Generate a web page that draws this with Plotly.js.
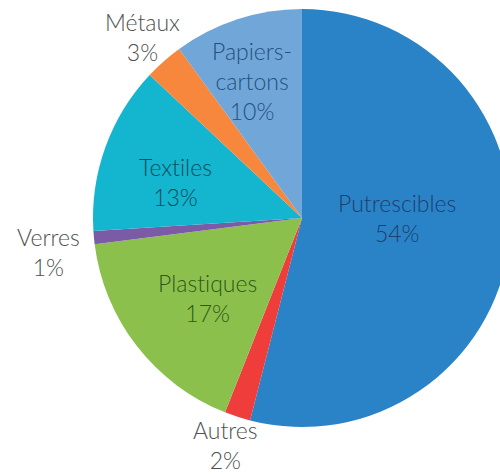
<!DOCTYPE html>
<html>
<head>
<meta charset="utf-8">
<script src="https://cdn.plot.ly/plotly-3.0.1.min.js"></script>
<style>
  html, body { margin: 0; padding: 0; overflow: hidden; background: #fff; }
  #chart { width: 522px; height: 475px; }
  text { font-variant-ligatures: none; font-feature-settings: "liga" 0, "clig" 0; }
</style>
</head>
<body>
<div id="chart"></div>
<script>
// Data (clockwise from 12 o'clock)
const categories = ["Putrescibles", "Autres", "Plastiques", "Verres", "Textiles", "Métaux", "Papiers-cartons"];
const displayLabels = ["Putrescibles", "Autres", "Plastiques", "Verres", "Textiles", "Métaux", "Papiers-<br>cartons"];
const percentages = [54, 2, 17, 1, 13, 3, 10];

// Styles
const sliceColors = ["#2a83c6", "#ee3d3a", "#8cc04d", "#7b5aa6", "#13b5cf", "#f7873d", "#70a7d8"];
const labelColors = ["#1d3f6e", "#505050", "#2c5a1a", "#505050", "#0d4d5c", "#505050", "#25507f"];
// label centre positions in pixels (layout only)
const labelPos = [[397, 218], [225, 445], [207, 298], [48, 252], [175, 182], [142, 37], [252, 81]];

const W = 522, H = 475;

const trace = {
  type: "pie",
  labels: categories,
  values: percentages,
  sort: false,
  direction: "clockwise",
  rotation: 0,
  textinfo: "none",
  hoverinfo: "none",
  marker: { colors: sliceColors, line: { width: 0 } },
  domain: { x: [93 / W, 511 / W], y: [48 / H, 466 / H] },
  showlegend: false
};

const annotations = categories.map((c, i) => ({
  xref: "paper", yref: "paper",
  x: labelPos[i][0] / W, y: 1 - labelPos[i][1] / H,
  xanchor: "center", yanchor: "middle",
  text: displayLabels[i] + "<br>" + percentages[i] + "%",
  showarrow: false,
  align: "center",
  borderpad: 0,
  font: { family: "Lato, 'Open Sans', sans-serif", size: 23, weight: 300, color: labelColors[i] }
}));

const layout = {
  width: W, height: H,
  margin: { l: 0, r: 0, t: 0, b: 0 },
  paper_bgcolor: "#ffffff",
  plot_bgcolor: "#ffffff",
  annotations: annotations
};

Plotly.newPlot("chart", [trace], layout, { displayModeBar: false, staticPlot: true });
</script>
</body>
</html>
